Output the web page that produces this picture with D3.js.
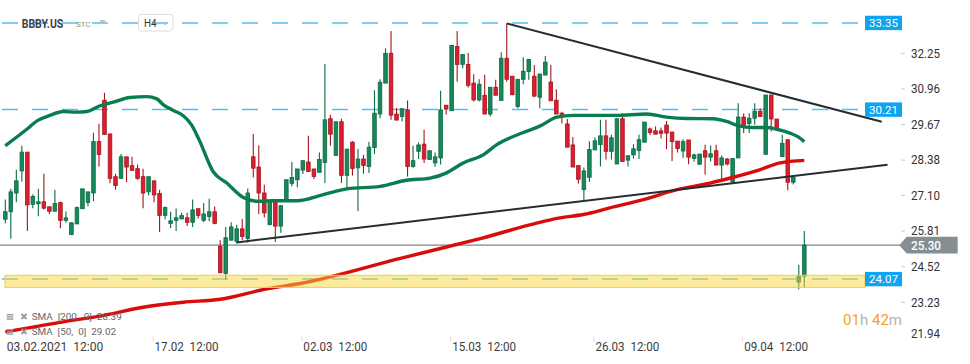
<!DOCTYPE html>
<html><head><meta charset="utf-8">
<script src="https://cdn.jsdelivr.net/npm/d3@7"></script>
<style>html,body{margin:0;padding:0;background:#fff;}svg{display:block;font-family:Roboto,"Noto Sans",sans-serif;}</style>
</head><body><svg id="c" width="970" height="364"></svg>
<script>
const openP=[26.24,26.51,27.19,27.99,28.67,26.78,26.80,26.87,26.69,26.53,
26.84,26.20,25.68,26.07,26.62,26.85,27.19,29.05,30.55,29.33,
27.78,27.72,28.50,28.18,28.07,27.78,27.23,27.63,27.17,26.38,
26.09,26.20,26.25,26.29,26.13,26.62,26.20,26.34,26.51,25.26,
24.28,25.48,25.43,25.89,25.54,28.50,28.13,27.19,26.04,26.88,
25.99,26.91,27.54,27.67,28.02,28.31,28.06,27.94,28.30,29.88,
28.55,29.77,27.83,29.03,28.10,28.42,28.15,28.84,30.05,31.17,
32.25,30.05,29.96,30.20,28.15,28.70,28.96,28.40,28.28,28.46,
30.37,30.17,32.50,31.85,31.85,31.17,30.56,30.73,30.05,31.02,
30.54,32.07,31.42,30.32,31.31,31.59,31.42,30.66,31.46,31.21,
30.55,30.08,29.69,28.93,28.18,27.31,27.76,28.75,28.94,29.26,
28.70,28.24,29.88,28.38,28.57,28.73,29.03,29.51,29.44,29.44,
29.65,29.40,29.07,28.71,29.11,28.44,28.23,28.72,28.49,28.72,
28.20,28.42,27.58,28.46,29.94,29.71,29.90,30.14,28.59,30.74,
29.87,28.51,29.12,27.58,23.96,24.18];
const highP=[26.95,27.34,28.03,28.90,28.67,27.14,27.34,27.89,26.69,27.31,
26.87,26.52,26.13,26.70,27.34,27.23,29.37,29.70,30.82,29.33,
27.89,28.60,28.50,28.50,28.22,28.07,27.78,27.63,27.31,26.70,
26.51,26.63,26.47,26.47,26.95,26.62,26.83,26.98,26.70,25.48,
25.96,26.13,26.04,26.25,27.35,29.33,28.92,27.49,26.91,26.88,
26.73,27.67,28.31,28.06,28.36,29.26,28.06,28.66,31.86,30.02,
29.77,29.88,28.78,29.07,28.78,28.57,29.05,30.91,31.31,32.43,
33.06,30.27,30.24,30.54,28.90,29.02,29.48,28.72,28.66,30.89,
30.37,32.54,33.06,32.21,32.26,31.49,31.31,31.47,31.02,31.29,
32.29,33.33,31.42,31.31,32.11,32.03,31.83,31.50,32.15,31.83,
30.95,30.13,29.87,29.22,28.18,28.11,29.06,29.20,29.84,29.84,
29.30,29.88,30.08,28.54,28.96,29.30,29.76,29.56,29.60,29.56,
29.80,29.40,29.07,29.14,29.11,28.61,28.60,28.94,28.91,28.94,
28.55,28.46,28.44,30.44,30.08,30.08,30.44,30.26,30.74,30.74,
29.87,29.30,29.12,27.75,24.59,25.81];
const lowP=[26.09,25.53,26.85,27.61,25.81,26.64,26.35,26.59,26.42,26.53,
25.91,26.11,25.68,26.07,26.62,26.71,26.89,28.14,29.31,27.54,
27.31,27.72,27.58,28.01,27.67,26.64,27.11,26.85,25.78,26.24,
25.92,25.81,26.25,25.99,25.96,26.27,26.13,26.17,26.06,24.28,
24.06,25.48,25.36,25.48,25.39,27.75,26.43,26.30,26.04,25.41,
25.75,26.91,27.43,27.40,27.88,27.97,27.70,27.94,27.55,28.90,
28.55,27.55,27.34,27.82,26.53,27.89,27.91,28.60,29.90,31.17,
29.84,29.83,29.78,27.79,28.10,28.42,28.28,28.40,28.13,28.22,
30.03,30.17,31.22,31.71,31.01,30.50,30.50,30.05,29.96,30.73,
30.54,31.22,30.73,30.26,31.13,31.29,30.66,30.26,31.46,30.53,
30.05,29.71,28.85,28.13,27.53,26.94,27.59,28.75,28.15,28.40,
28.40,28.24,28.33,28.15,28.44,28.42,29.03,29.29,29.32,29.16,
28.78,28.35,28.66,28.47,28.23,28.32,28.23,27.85,28.33,28.20,
27.67,28.19,27.58,28.46,29.36,29.36,29.66,29.94,28.59,29.42,
29.56,28.51,27.29,27.50,23.70,23.75];
const closeP=[26.51,27.23,27.63,28.67,26.76,27.06,26.87,26.64,26.53,26.81,
26.20,26.29,26.11,26.66,27.34,27.23,29.05,28.59,29.31,27.72,
27.46,28.50,28.13,28.01,27.72,27.19,27.78,27.12,26.38,26.66,
26.18,26.29,26.37,26.13,26.58,26.38,26.43,26.51,26.09,24.30,
25.57,25.96,25.89,25.61,27.19,28.09,27.19,26.47,26.91,25.99,
26.73,27.67,27.75,28.06,28.36,27.97,27.79,28.40,29.84,29.32,
29.77,27.83,28.78,28.08,28.42,28.19,28.85,30.08,31.20,32.25,
30.01,29.83,30.24,28.15,28.36,28.93,28.42,28.72,28.50,30.20,
30.23,32.54,31.85,32.21,31.09,30.56,31.13,30.05,31.02,30.73,
32.07,31.31,30.75,31.31,31.60,32.03,30.70,31.50,31.93,30.53,
30.05,29.96,28.85,28.13,27.69,27.99,28.76,29.08,29.26,28.70,
29.19,29.88,28.33,28.54,28.79,29.12,29.76,29.38,29.32,29.35,
29.36,29.05,28.80,29.05,28.49,28.57,28.60,28.49,28.61,28.20,
28.46,28.24,28.44,29.94,29.64,29.90,30.15,29.96,30.74,29.87,
29.56,28.99,27.58,27.75,24.19,25.30];

const sma50Idx=[0,3.9,5.9,8.1,10.5,13,14.8,17.2,19.6,22.6,25.7,27.5,28.7,30.5,32.3,33.8,35.3,37.7,40.2,43.2,45.9,48.6,52.9,57.7,62,68,72.8,77.1,80.1,83.1,86.8,89.2,94,97.1,100.1,103.1,106.1,110.9,116.4,120,123.7,128.5,130.9,133,135.7,138.2,140,142.4,143.9,145];
const sma50Val=[28.90,29.50,29.82,30.00,30.14,30.12,30.14,30.35,30.48,30.65,30.68,30.60,30.38,30.18,29.99,29.66,29.06,27.97,27.55,27.03,26.89,26.91,26.91,27.13,27.34,27.43,27.65,27.73,27.92,28.28,28.58,28.94,29.38,29.62,29.94,30.00,30.00,30.00,30.05,29.94,29.89,29.88,29.78,29.63,29.56,29.56,29.50,29.36,29.22,29.05];
const sma200Idx=[0,5,11.2,17.2,25,32.3,39,47.5,53.5,71.7,86.2,100.7,104.9,109.7,115.8,121.9,127.9,132.1,136.9,140.6,145];
const sma200Val=[22.16,22.33,22.55,22.73,23.05,23.23,23.34,23.72,23.91,24.82,25.54,26.29,26.41,26.65,26.95,27.31,27.55,27.76,28.03,28.28,28.37];

const trendUpper=[[91,33.33],[159.06,29.77]];
const trendLower=[[42,25.40],[160.1,28.21]];

const levelVals=[33.35,30.21,24.07];
const levelLabels=["33.35","30.21","24.07"];
const bandLow=23.77, bandHigh=24.21;
const lastPrice=25.30, lastLabel="25.30";

const yTickVals=[32.25,30.96,29.67,28.38,27.10,25.81,24.52,23.23,21.94];
const yTickLabels=["32.25","30.96","29.67","28.38","27.10","25.81","24.52","23.23","21.94"];
const xTickIdx=[0,27,54,81,107,134];
const xTickDates=["03.02.2021","17.02","02.03","15.03","26.03","09.04"];
const xTickTimes=["12:00","12:00","12:00","12:00","12:00","12:00"];
const legendLines=["SMA  [200,  0]  28.39","SMA  [50,  0]  29.02"];

const svg=d3.select("#c");
const x=d3.scaleLinear().domain([0,145]).range([5.3,804.3]);
const y=d3.scaleLinear().domain([23.23,32.25]).range([302.3,53.3]);

const GF="#17885a",GS="#0b6a43",RF="#dc1f2e",RS="#a3141f";

// level dashed lines
svg.append("g").selectAll("line").data(levelVals).join("line")
  .attr("x1",2).attr("x2",865).attr("y1",d=>y(d)).attr("y2",d=>y(d))
  .attr("stroke","#3db0f0").attr("stroke-opacity",0.85).attr("stroke-width",1.5)
  .attr("stroke-dasharray","16,14");

// last price line
svg.append("line").attr("x1",0).attr("x2",900).attr("y1",y(lastPrice)).attr("y2",y(lastPrice))
  .attr("stroke","#7b878d").attr("stroke-width",1.2);

// candles
const idx=d3.range(openP.length);
const cg=svg.append("g");
cg.selectAll("line").data(idx).join("line")
  .attr("x1",i=>x(i)).attr("x2",i=>x(i))
  .attr("y1",i=>y(highP[i])).attr("y2",i=>y(lowP[i]))
  .attr("stroke",i=>closeP[i]>=openP[i]?GS:RS).attr("stroke-width",1.1);
cg.selectAll("rect").data(idx).join("rect")
  .attr("x",i=>x(i)-1.8).attr("width",3.6)
  .attr("y",i=>y(Math.max(openP[i],closeP[i])))
  .attr("height",i=>Math.max(1,y(Math.min(openP[i],closeP[i]))-y(Math.max(openP[i],closeP[i]))))
  .attr("fill",i=>closeP[i]>=openP[i]?GF:RF)
  .attr("stroke",i=>closeP[i]>=openP[i]?GS:RS).attr("stroke-width",0.8);

// SMA lines
const lineGen=d3.line().x(d=>x(d[0])).y(d=>y(d[1])).curve(d3.curveMonotoneX);
svg.append("path").datum(sma200Idx.map((d,i)=>[d,sma200Val[i]]))
  .attr("d",lineGen).attr("fill","none").attr("stroke","#d90c0c").attr("stroke-width",3.4).attr("stroke-linejoin","round");
svg.append("path").datum(sma50Idx.map((d,i)=>[d,sma50Val[i]]))
  .attr("d",lineGen).attr("fill","none").attr("stroke","#0a7d4f").attr("stroke-width",3.4).attr("stroke-linejoin","round");

// trend lines
[trendUpper,trendLower].forEach(t=>{
  svg.append("line").attr("x1",x(t[0][0])).attr("y1",y(t[0][1])).attr("x2",x(t[1][0])).attr("y2",y(t[1][1]))
   .attr("stroke","#262c33").attr("stroke-width",2);
});

// highlight band
svg.append("rect").attr("x",5).attr("width",860)
  .attr("y",y(bandHigh)).attr("height",y(bandLow)-y(bandHigh))
  .attr("fill","rgb(250,214,60)").attr("fill-opacity",0.5)
  .attr("stroke","#f2cf45").attr("stroke-width",1);

// level labels
const lg=svg.append("g").selectAll("g").data(levelVals).join("g");
lg.append("rect").attr("x",865).attr("width",37).attr("y",d=>y(d)-7.2).attr("height",14.4).attr("fill","#0ea4ef");
lg.append("text").attr("x",883.5).attr("y",d=>y(d)+4).attr("text-anchor","middle")
  .attr("fill","#fff").attr("font-size",11.5).text((d,i)=>levelLabels[i]);

// right axis
const ya=svg.append("g").selectAll("g").data(yTickVals).join("g");
ya.filter(d=>y(d)<320).append("line").attr("x1",901).attr("x2",905).attr("y1",d=>y(d)).attr("y2",d=>y(d)).attr("stroke","#ccc");
ya.append("text").attr("x",911).attr("y",d=>Math.min(y(d),334)+4.2)
  .attr("fill","#333").attr("font-size",12).attr("textLength",29).attr("lengthAdjust","spacingAndGlyphs")
  .text((d,i)=>yTickLabels[i]);

// last price marker
const ly=y(lastPrice);
svg.append("path").attr("d",`M899.3,${ly} L906.7,${ly-8.3} L957.7,${ly-8.3} L957.7,${ly+8.3} L906.7,${ly+8.3} Z`).attr("fill","#858e93");
svg.append("text").attr("x",911).attr("y",ly+4.5).attr("fill","#fff").attr("font-size",12.5).attr("font-weight",500)
  .attr("textLength",30).attr("lengthAdjust","spacingAndGlyphs").text(lastLabel);

// x axis
const xa=svg.append("g").selectAll("g").data(xTickIdx).join("g");
xa.filter((d,i)=>i>0).append("line").attr("x1",d=>x(d)-1).attr("x2",d=>x(d)-1).attr("y1",336.5).attr("y2",341.5).attr("stroke","#ddd");
xa.append("text").attr("x",(d,i)=>x(d)+(i===0?1.4:0.5)).attr("y",351.3).attr("fill","#3d3d3d").attr("font-size",12.5)
  .attr("textLength",(d,i)=>i===0?96.6:64).attr("lengthAdjust","spacingAndGlyphs")
  .style("white-space","pre").text((d,i)=>xTickDates[i]+"  "+xTickTimes[i]);

// legend
const leg=svg.append("g");
legendLines.forEach((t,i)=>{
  const by=320+15*i;
  [0,2.2,4.4].forEach(o=>leg.append("rect").attr("x",6.7).attr("y",by-6+o).attr("width",6.6).attr("height",1.4).attr("fill","#9a9a9a"));
  leg.append("path").attr("d",`M21.5,${by-6} L26.5,${by-1} M26.5,${by-6} L21.5,${by-1}`).attr("stroke","#9a9a9a").attr("stroke-width",1.8);
  leg.append("text").attr("x",31.7).attr("y",by).attr("fill","#666").attr("font-size",9.5)
    .attr("textLength",i===0?90:84.3).attr("lengthAdjust","spacingAndGlyphs").style("white-space","pre").text(t);
});

// header
const hd=svg.append("g");
hd.append("text").attr("x",21.7).attr("y",28).attr("fill","#38434c").attr("font-size",13).attr("font-weight",700)
  .attr("textLength",41.6).attr("lengthAdjust","spacingAndGlyphs").text("BBBY.US");
hd.append("text").attr("x",76).attr("y",26.7).attr("fill","#8a949b").attr("font-size",8).attr("textLength",14.7).attr("lengthAdjust","spacingAndGlyphs").text("STC");
hd.append("path").attr("d","M99.3,20.2 L106,20.2 L102.65,23.6 Z").attr("fill","#b5b9bc");
hd.append("rect").attr("x",138.5).attr("y",14.5).attr("width",34.5).attr("height",16.5).attr("rx",3).attr("fill","none").attr("stroke","#dcdcdc");
hd.append("text").attr("x",144).attr("y",27).attr("fill","#3a3a3a").attr("font-size",11).attr("textLength",12.6).attr("lengthAdjust","spacingAndGlyphs").text("H4");
hd.append("path").attr("d","M162.3,22.4 L167.6,22.4 L164.95,25.3 Z").attr("fill","#b5b9bc");

// timer
const tm=svg.append("text").attr("x",902).attr("y",325).attr("text-anchor","end").attr("font-size",15);
tm.append("tspan").attr("fill","#f5a31d").text("01");
tm.append("tspan").attr("fill","#b0b4b8").text("h ");
tm.append("tspan").attr("fill","#f5a31d").text("42");
tm.append("tspan").attr("fill","#b0b4b8").text("m");
</script></body></html>
